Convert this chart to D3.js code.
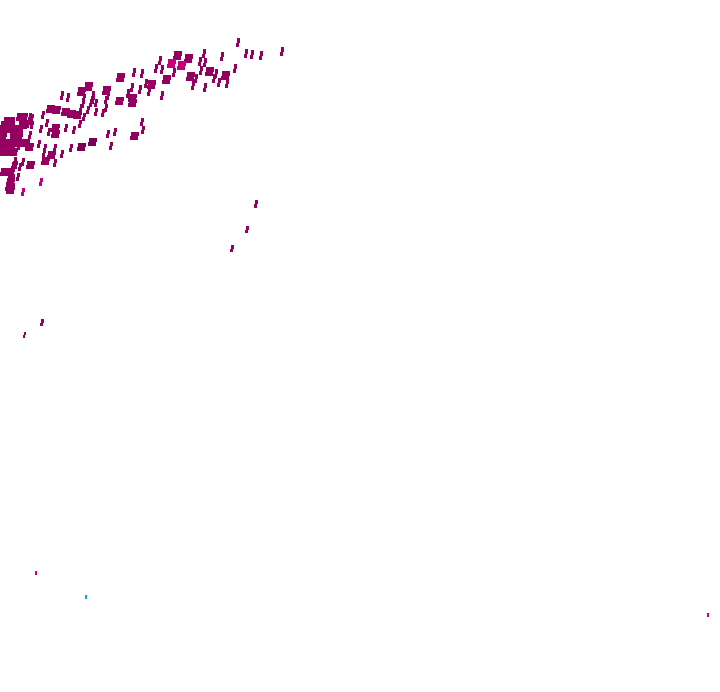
<!DOCTYPE html>
<html><head><meta charset="utf-8">
<style>html,body{margin:0;padding:0;background:#fff}svg{display:block}</style>
<script src="https://cdn.jsdelivr.net/npm/d3@7"></script></head>
<body><svg id="c" width="720" height="692"></svg>
<script>
const singleSeries = [
[237,42],[245,53],[252,54],[260,55],[281,51],[221,56],[203,53],[199,61],[204,62],
[159,60],[155,68],[161,69],[141,73],[173,72],[200,70],[215,73],[234,68],
[226,83],[219,82],[213,78],[196,78],[192,85],[204,87],[145,83],[148,92],[161,95],[133,72],[141,122],[142,130],
[139,89],[131,87],[127,94],[105,100],[107,96],[105,108],[102,113],[95,112],[95,103],[92,100],
[92,95],[90,103],[87,110],[80,108],[82,104],[83,98],[61,96],[67,97],[42,115],
[83,117],[79,124],[73,130],[65,128],[48,132],[46,123],[40,129],
[31,125],[29,135],[22,162],[38,144],[44,148],[43,153],
[54,148],[54,163],[61,154],[70,148],[107,134],[110,146],[115,132],[142,130],
[255,204],[246,230],[231,248],[41,322],[24,335]
];
const blobSeries = [
[177,55],[188,58],[166,79],[151,84],[190,76],[209,71],[225,75],
[120,77],[106,90],[119,101],[132,98],[132,103],[81,92],[88,86],
[50,109],[56,110],[65,112],[71,114],[77,115],[55,128],[55,134],[134,136],[30,165],[45,161],[51,155],[29,147]
];
const clusterSeries = [
[17,117],[20,117],[23,117],[26,117],[29,117],[31,118],[29,121],[27,124],
[4,121],[7,121],[10,121],[13,121],
[1,125],[4,125],[7,125],[10,125],[13,125],[19,125],[22,125],[25,125],
[4,129],[8,129],[11,129],[14,129],[17,129],[20,129],
[0,133],[3,133],[5,133],[11,133],[14,133],[17,133],[20,133],
[1,137],[4,137],[11,137],[14,137],[17,137],[20,137],
[0,143],[3,143],[6,143],[9,143],[12,143],[15,143],[18,143],[21,143],[24,143],[27,143],
[0,149],[3,149],[6,149],[9,149],[12,149],[18,146],
[1,152],[4,152],[7,152],[10,152],[13,152],[15,152],
[14,161],[13,166],[15,165],[19,167],
[1,172],[4,172],[7,172],[10,172],[13,172],[17,177],
[8,178],[10,178],[13,178],[7,182],[10,182],[13,182],[6,187],[9,187],[12,187],[7,190],[10,190],[13,190]
];
const pinkSeries = [[22,192],[40,182],[36,573],[708,615]];
const pinkBlobSeries = [[171,63],[181,65]];
const darkBlobSeries = [[81,147],[92,142]];
const blueSeries = [[86,597]];
const seriesNames = ["single","blob","cluster","pink","pinkBlob","darkBlob","blue"];
const seriesPoints = [singleSeries,blobSeries,clusterSeries,pinkSeries,pinkBlobSeries,darkBlobSeries,blueSeries];
const blobNames = ["blob","pinkBlob","darkBlob"];

const width = 720, height = 692;
const x = d3.scaleLinear().domain([0,720]).range([0,width]);
const y = d3.scaleLinear().domain([0,692]).range([0,height]);
const color = d3.scaleOrdinal().domain(seriesNames)
  .range(["#94005f","#94005f","#94005f","#c4007f","#c4007f","#7c0052","#00a8f0"]);
const markH = d3.scaleLinear().domain([40,610]).range([9,4]);
const markW = d3.scaleLinear().domain([40,610]).range([3.4,1.6]);
const markT = d3.scaleLinear().domain([40,610]).range([1.3,0]);
const svg = d3.select("#c");
const markPath = (d, wide) => {
  const cx = x(d[0]), cy = y(d[1]);
  const h = Math.round(markH(d[1])), w = wide ? 8 : Math.round(markW(d[1])), t = Math.round(markT(d[1]));
  const l = Math.round(cx - w/2), top = Math.round(cy - h/2), half = Math.round(h/2);
  return `M${l+t},${top}h${w}v${half}h${-t}v${h-half}h${-w}v${half-h}h${t}z`;
};
svg.selectAll("g").data(seriesNames).join("g")
  .attr("fill", d => color(d))
  .attr("shape-rendering","crispEdges")
  .each(function(name,i){
    d3.select(this).selectAll("path").data(seriesPoints[i]).join("path")
      .attr("d", d => markPath(d, blobNames.includes(name)));
  });
</script></body></html>
